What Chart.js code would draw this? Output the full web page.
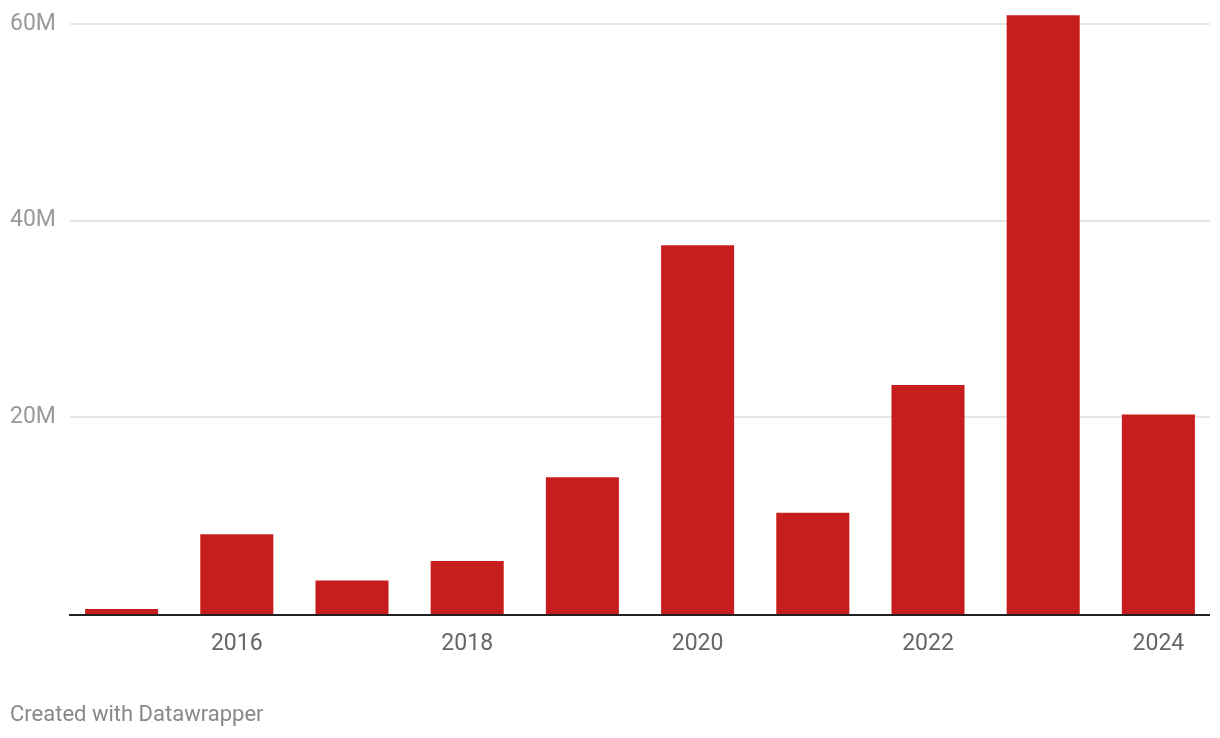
<!DOCTYPE html>
<html>
<head>
<meta charset="utf-8">
<script src="https://cdn.jsdelivr.net/npm/chart.js@4"></script>
<style>
  html, body { margin:0; padding:0; background:#fff; }
  #wrap { position:relative; width:1220px; height:738px; }
  #footer { position:absolute; left:10px; top:701px; font-family:Roboto, sans-serif; font-size:22px; color:#888; }
</style>
</head>
<body>
<div id="wrap">
  <canvas id="barChart" width="1220" height="738"></canvas>
  <div id="footer">Created with Datawrapper</div>
</div>
<script>
const years = ['2015','2016','2017','2018','2019','2020','2021','2022','2023','2024'];
const values = [0.5, 8.1, 3.4, 5.4, 13.9, 37.5, 10.3, 23.3, 60.9, 20.3].map(v => v * 1e6);
const yTicks = [0, 20e6, 40e6, 60e6];

document.addEventListener('DOMContentLoaded', ()=>{

  // gridlines a bit shorter than the category band, baseline on top of bars
  const gridPlugin = {
    id:'dwGrid',
    beforeDatasetsDraw(chart){
      const c = chart.ctx, y = chart.scales.y;
      c.save();
      c.strokeStyle = '#e6e6e6'; c.lineWidth = 2;
      yTicks.slice(1).forEach(t=>{
        const py = Math.round(y.getPixelForValue(t));
        c.beginPath(); c.moveTo(70, py); c.lineTo(1210, py); c.stroke();
      });
      c.restore();
    },
    afterDatasetsDraw(chart){
      const c = chart.ctx, y = chart.scales.y;
      const py = Math.round(y.getPixelForValue(0));
      c.save();
      c.strokeStyle = '#222'; c.lineWidth = 2;
      c.beginPath(); c.moveTo(69, py + 1); c.lineTo(1210, py + 1); c.stroke();
      c.restore();
    }
  };

  new Chart(document.getElementById('barChart'), {
    type:'bar',
    data:{ labels:years, datasets:[{ data:values, backgroundColor:'#c71e1d', barPercentage:0.634, categoryPercentage:1, clip:false }] },
    options:{
      responsive:false, animation:false,
      layout:{ padding:{ left:10, right:4, top:24, bottom:0 } },
      plugins:{ legend:{display:false}, tooltip:{enabled:false} },
      scales:{
        x:{
          grid:{display:false}, border:{display:false},
          ticks:{ color:'#666', font:{family:'Roboto', size:23}, padding:8, autoSkip:false, maxRotation:0,
            callback:(v,i)=> (+years[i]) % 2 === 0 ? years[i] : '' },
          afterFit:(s)=>{ s.height = 124; }
        },
        y:{
          min:0, max:60e6,
          grid:{display:false}, border:{display:false},
          afterBuildTicks:(s)=>{ s.ticks = yTicks.map(v=>({value:v})); },
          ticks:{ color:'#9a9a9a', font:{family:'Roboto', size:23}, crossAlign:'far', padding:0,
            callback:(v)=> v === 0 ? '' : (v/1e6) + 'M' },
          afterFit:(s)=>{ s.width = 54; }
        }
      }
    },
    plugins:[gridPlugin]
  });
});
</script>
</body>
</html>
